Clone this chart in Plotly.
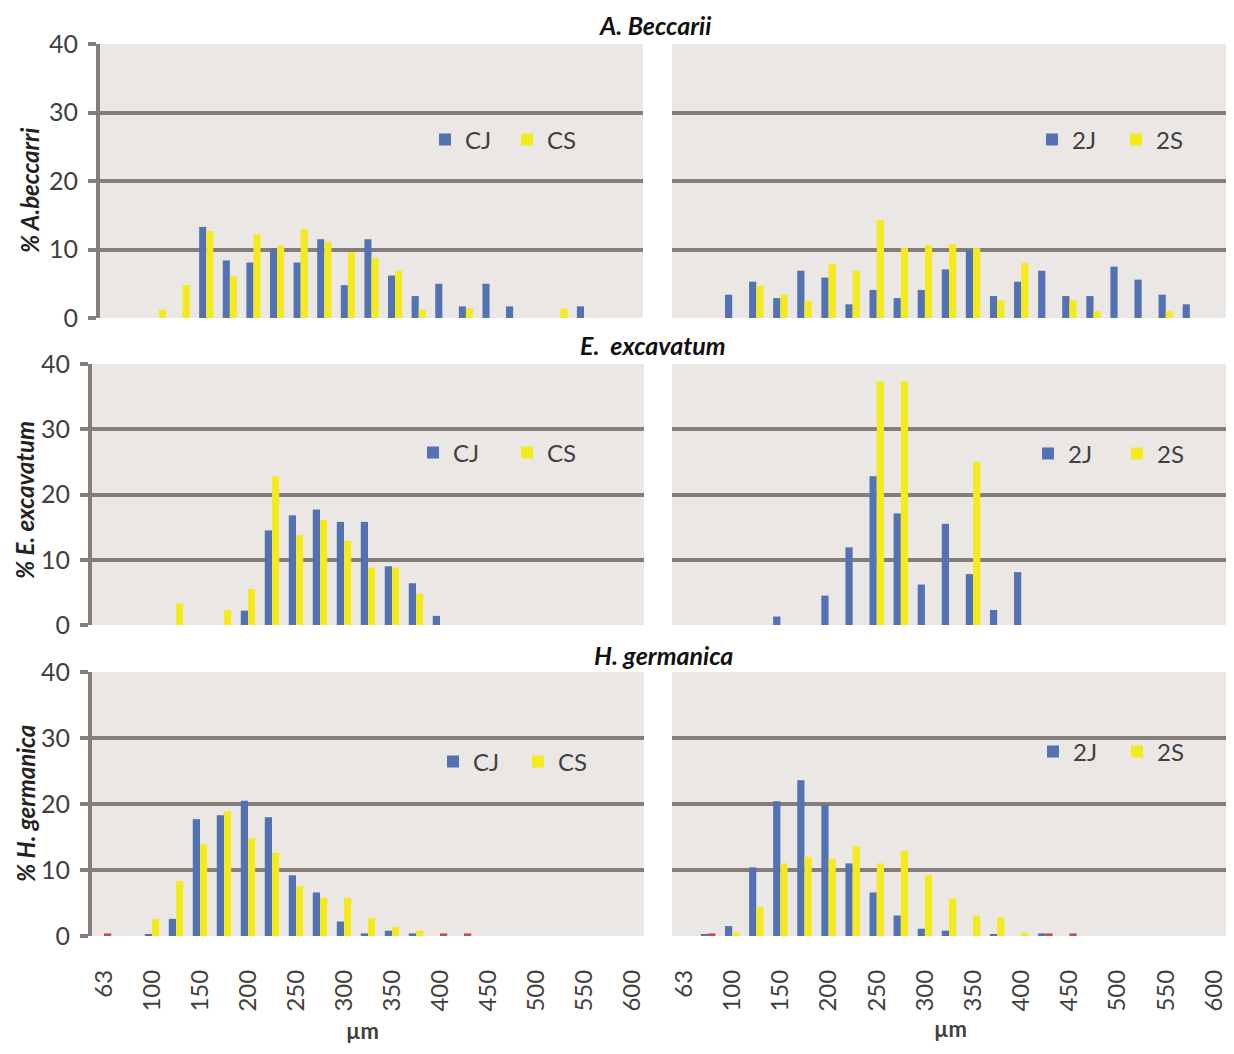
import plotly.graph_objects as go

# ---------------- data ----------------
categories = ["63", "80", "100", "125", "150", "175", "200", "225", "250", "275", "300", "325",
              "350", "375", "400", "425", "450", "475", "500", "525", "550", "575", "600"]
x_tick_labels = ["63", "100", "150", "200", "250", "300", "350", "400", "450", "500", "550", "600"]
y_ticks = [0, 10, 20, 30, 40]

# A. beccarii
ab_CJ = [0, 0, 0, 0, 13.3, 8.4, 8.1, 10.2, 8.1, 11.5, 4.8, 11.5, 6.2, 3.2, 5.0, 1.7, 5.0, 1.7, 0, 0, 1.7, 0, 0]
ab_CS = [0, 0, 1.2, 4.8, 12.7, 6.1, 12.2, 10.6, 13.0, 11.1, 9.6, 8.8, 6.9, 1.2, 0, 1.4, 0, 0, 0, 1.4, 0, 0, 0]
ab_2J = [0, 0, 3.4, 5.3, 2.9, 6.9, 5.9, 2.0, 4.1, 2.9, 4.1, 7.1, 10.0, 3.2, 5.3, 6.9, 3.2, 3.2, 7.5, 5.6, 3.4, 2.0, 0]
ab_2S = [0, 0, 0, 4.7, 3.4, 2.5, 7.9, 6.9, 14.3, 10.2, 10.6, 10.8, 10.2, 2.6, 8.0, 0, 2.6, 1.0, 0, 0, 1.0, 0, 0]

# E. excavatum
ex_CJ = [0, 0, 0, 0, 0, 0, 2.2, 14.5, 16.8, 17.7, 15.8, 15.8, 9.0, 6.4, 1.4, 0, 0, 0, 0, 0, 0, 0, 0]
ex_CS = [0, 0, 0, 3.3, 0, 2.3, 5.5, 22.8, 13.8, 16.1, 12.9, 8.8, 8.8, 4.8, 0, 0, 0, 0, 0, 0, 0, 0, 0]
ex_2J = [0, 0, 0, 0, 1.3, 0, 4.5, 11.9, 22.8, 17.1, 6.2, 15.5, 7.8, 2.3, 8.1, 0, 0, 0, 0, 0, 0, 0, 0]
ex_2S = [0, 0, 0, 0, 0, 0, 0, 0, 37.3, 37.3, 0, 0, 25.0, 0, 0, 0, 0, 0, 0, 0, 0, 0, 0]

# H. germanica
hg_CJ = [0, 0, 0.3, 2.6, 17.7, 18.3, 20.5, 18.0, 9.2, 6.6, 2.2, 0.4, 0.8, 0.4, 0, 0, 0, 0, 0, 0, 0, 0, 0]
hg_CS = [0, 0, 2.6, 8.3, 13.9, 18.9, 14.8, 12.6, 7.6, 5.8, 5.8, 2.7, 1.4, 0.8, 0, 0, 0, 0, 0, 0, 0, 0, 0]
hg_C_other = [0.4, 0, 0, 0, 0, 0, 0, 0, 0, 0, 0, 0, 0, 0, 0.4, 0.4, 0, 0, 0, 0, 0, 0, 0]
hg_2J = [0, 0.3, 1.5, 10.4, 20.4, 23.6, 19.9, 11.0, 6.6, 3.1, 1.1, 0.8, 0, 0.3, 0, 0.4, 0, 0, 0, 0, 0, 0, 0]
hg_2S = [0, 0, 0.5, 4.4, 11.0, 12.0, 11.7, 13.6, 11.0, 12.9, 9.2, 5.7, 3.1, 2.8, 0.5, 0, 0, 0, 0, 0, 0, 0, 0]
hg_2_other = [0, 0.4, 0, 0, 0, 0, 0, 0, 0, 0, 0, 0, 0, 0, 0, 0.4, 0.4, 0, 0, 0, 0, 0, 0]

panel_titles = ["A. Beccarii", "E.\u00a0 excavatum", "H. germanica"]
y_titles = ["% A.beccarri", "% E. excavatum", "% H. germanica"]
x_title = "µm"

# ---------------- style ----------------
WIN_W, WIN_H = 1234, 1054
PAGE_MARGIN = 8          # default body margin of the html page
W, H = WIN_W - 2 * PAGE_MARGIN, WIN_H - 2 * PAGE_MARGIN
BLUE = "#5272B4"
YELLOW = "#F5EA1C"
RED = "#C0504D"
GRID = "#857D79"
PLOTBG = "#EBE7E4"
TXT = "#404040"
FONT = "Lato"


def fx(px):
    return (px - PAGE_MARGIN) / W


def fy(py):
    return 1 - (py - PAGE_MARGIN) / H


# panel geometry in window pixels: (x0, x1, ytop, ybottom)
panels = [
    dict(d=(100, 643, 44, 318), names=("CJ", "CS"), vals=(ab_CJ, ab_CS, None), left=True, bottom=False,
         leg=(425, 140, 37)),
    dict(d=(672, 1226, 44, 318), names=("2J", "2S"), vals=(ab_2J, ab_2S, None), left=False, bottom=False,
         leg=(1032, 140, 39)),
    dict(d=(92, 644, 364, 625), names=("CJ", "CS"), vals=(ex_CJ, ex_CS, None), left=True, bottom=False,
         leg=(413, 453, 49)),
    dict(d=(672, 1226, 364, 625), names=("2J", "2S"), vals=(ex_2J, ex_2S, None), left=False, bottom=False,
         leg=(1028, 454, 44)),
    dict(d=(92, 644, 672, 936), names=("CJ", "CS"), vals=(hg_CJ, hg_CS, hg_C_other), left=True, bottom=True,
         leg=(433, 762, 40)),
    dict(d=(672, 1226, 672, 936), names=("2J", "2S"), vals=(hg_2J, hg_2S, hg_2_other), left=False, bottom=True,
         leg=(1033, 752, 39)),
]

fig = go.Figure()
layout = dict(
    width=W, height=H,
    margin=dict(l=0, r=0, t=0, b=0, autoexpand=False),
    paper_bgcolor="white",
    plot_bgcolor=PLOTBG,
    barmode="group", bargap=0.4, bargroupgap=0,
    font=dict(family=FONT, color=TXT),
    annotations=[],
)

for i, p in enumerate(panels):
    n = i + 1
    xa = "x" if n == 1 else f"x{n}"
    ya = "y" if n == 1 else f"y{n}"
    lg = "legend" if n == 1 else f"legend{n}"
    a, b, other = p["vals"]
    fig.add_trace(go.Bar(x=categories, y=a, name=p["names"][0], marker=dict(color=BLUE, line=dict(width=0)),
                         xaxis=xa, yaxis=ya, legend=lg, offsetgroup="a"))
    fig.add_trace(go.Bar(x=categories, y=b, name=p["names"][1], marker=dict(color=YELLOW, line=dict(width=0)),
                         xaxis=xa, yaxis=ya, legend=lg, offsetgroup="b"))
    if other is not None:
        fig.add_trace(go.Bar(x=categories, y=other, name="", marker=dict(color=RED, line=dict(width=0)),
                             xaxis=xa, yaxis=ya, showlegend=False, offsetgroup="b"))

    x0, x1, yt, yb = p["d"]
    xkey = "xaxis" if n == 1 else f"xaxis{n}"
    ykey = "yaxis" if n == 1 else f"yaxis{n}"
    layout[xkey] = dict(
        domain=[fx(x0), fx(x1)], anchor=ya, type="category", automargin=False,
        categoryorder="array", categoryarray=categories, range=[-0.5, len(categories) - 0.5],
        showgrid=False, zeroline=False, showline=False, ticks="",
        showticklabels=p["bottom"], tickmode="array", tickvals=x_tick_labels, ticktext=x_tick_labels,
        tickangle=-90, tickfont=dict(size=24, color=TXT, family=FONT), ticklabelstandoff=28,
        fixedrange=True,
    )
    layout[ykey] = dict(
        domain=[fy(yb), fy(yt)], anchor=xa, range=[0, 40], automargin=False,
        tickmode="array", tickvals=y_ticks,
        showgrid=True, gridcolor=GRID, gridwidth=4, zeroline=False,
        showline=p["left"], linecolor=GRID, linewidth=4,
        ticks="outside" if p["left"] else "", ticklen=8, tickwidth=4, tickcolor=GRID,
        showticklabels=p["left"], tickfont=dict(size=25, color=TXT, family=FONT), ticklabelstandoff=5,
        fixedrange=True,
    )
    lx, lyc, ew = p["leg"]
    layout[lg] = dict(
        x=fx(lx), y=fy(lyc), xanchor="left", yanchor="middle", orientation="h",
        bgcolor="rgba(0,0,0,0)", borderwidth=0,
        font=dict(size=24, color=TXT, family=FONT),
        entrywidth=ew, entrywidthmode="pixels", itemclick=False, itemdoubleclick=False,
    )

# panel titles
for t, (cx, cy) in zip(panel_titles, [(655, 25), (653, 345), (663, 655)]):
    layout["annotations"].append(dict(
        text=f"<b><i>{t}</i></b>", x=fx(cx), y=fy(cy), xref="paper", yref="paper",
        xanchor="center", yanchor="middle", showarrow=False,
        font=dict(size=25, color="#111111", family=FONT)))

# y-axis titles
for t, (cx, cy) in zip(y_titles, [(29, 190), (24, 500), (25, 804)]):
    layout["annotations"].append(dict(
        text=f"<b><i>{t}</i></b>", x=fx(cx), y=fy(cy), xref="paper", yref="paper",
        xanchor="center", yanchor="middle", textangle=-90, showarrow=False,
        font=dict(size=24, color="#222222", family=FONT)))

# x-axis titles
for cx, cy in [(362, 1030), (950, 1028)]:
    layout["annotations"].append(dict(
        text=f"<b>{x_title}</b>", x=fx(cx), y=fy(cy), xref="paper", yref="paper",
        xanchor="center", yanchor="middle", showarrow=False,
        font=dict(size=22, color=TXT, family=FONT)))

fig.update_layout(**layout)
fig.write_html("out.html")
